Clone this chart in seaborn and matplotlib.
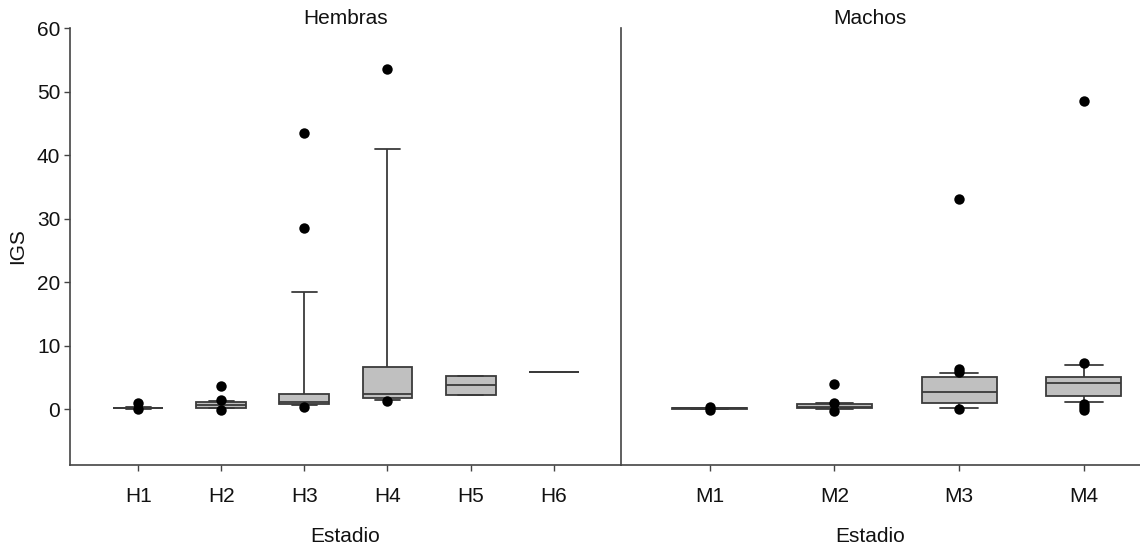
import matplotlib
matplotlib.use('Agg')
import matplotlib.pyplot as plt
import seaborn as sb
import pandas as pd
import numpy as np

# estadios por sexo
hembras = ['H1', 'H2', 'H3', 'H4', 'H5', 'H6']
machos = ['M1', 'M2', 'M3', 'M4']

# resumen: min bigote, Q1, mediana, Q3, max bigote
caja = {
    'H1': [0.05, 0.1, 0.15, 0.25, 0.4],
    'H2': [0.1, 0.25, 0.7, 1.1, 1.3],
    'H3': [0.7, 0.8, 1.1, 2.4, 18.5],
    'H4': [1.5, 1.7, 2.4, 6.6, 41.0],
    'H5': [2.2, 2.2, 3.8, 5.2, 5.2],
    'H6': [5.8],
    'M1': [0.0, 0.05, 0.1, 0.15, 0.2],
    'M2': [0.0, 0.1, 0.4, 0.75, 0.9],
    'M3': [0.2, 0.9, 2.7, 5.1, 5.7],
    'M4': [1.1, 2.0, 4.1, 5.1, 7.0],
}

# valores atipicos (puntos negros)
atipicos = {
    'H1': [1.0, 0.0],
    'H2': [3.7, 1.4, -0.1],
    'H3': [43.5, 28.5, 0.4],
    'H4': [53.5, 1.2],
    'M1': [0.4, -0.1],
    'M2': [4.0, 1.0, -0.3],
    'M3': [33.0, 6.3, 5.9, 0.0],
    'M4': [48.5, 7.3, 0.8, 0.3, -0.1],
}

df_caja = pd.DataFrame([(k, v) for k, vals in caja.items() for v in vals], columns=['Estadio', 'IGS'])
df_atip = pd.DataFrame([(k, v) for k, vals in atipicos.items() for v in vals], columns=['Estadio', 'IGS'])

sb.set_style('ticks')
plt.rcParams['font.family'] = ['Liberation Sans', 'DejaVu Sans']
plt.rcParams['text.color'] = '#111111'
plt.rcParams['axes.labelcolor'] = '#111111'
plt.rcParams['xtick.labelcolor'] = '#111111'
plt.rcParams['ytick.labelcolor'] = '#111111'
fs = 15

fig = plt.figure(figsize=(11.4, 5.5), dpi=100)
x0, x1, x2 = 70 / 1140, 621 / 1140, 1.0
y0, y1 = 1 - 465 / 550, 1 - 28 / 550
ax_h = fig.add_axes([x0, y0, x1 - x0, y1 - y0])
ax_m = fig.add_axes([x1, y0, x2 - x1, y1 - y0], sharey=ax_h)

gris, borde = '#c0c0c0', '#3a3a3a'
for ax, orden, titulo, lims, tx in [(ax_h, hembras, 'Hembras', (-0.82, 5.81), 0.5),
                                    (ax_m, machos, 'Machos', (-0.71, 3.45), 0.48)]:
    sb.boxplot(data=df_caja[df_caja.Estadio.isin(orden)], x='Estadio', y='IGS', order=orden,
               whis=(0, 100), showfliers=False, width=0.6, color=gris, linecolor=borde,
               linewidth=1.3, saturation=1, ax=ax)
    sb.stripplot(data=df_atip[df_atip.Estadio.isin(orden)], x='Estadio', y='IGS', order=orden,
                 jitter=False, color='black', size=7.5, ax=ax)
    ax.set_xlim(*lims)
    ax.set_title(titulo, fontsize=fs, pad=1, x=tx)
    ax.set_xlabel('Estadio', fontsize=fs)
    ax.xaxis.set_label_coords(tx, -0.142)
    ax.tick_params(axis='x', length=4, width=1, color='#444444', pad=12, labelsize=fs)
    for s in ['top', 'right']:
        ax.spines[s].set_visible(False)
    for s in ['left', 'bottom']:
        ax.spines[s].set_color('#444444')
        ax.spines[s].set_linewidth(1.2)

ax_h.set_ylim(-8.8, 60)
ax_h.set_yticks([0, 10, 20, 30, 40, 50, 60])
ax_h.set_ylabel('IGS', fontsize=fs, labelpad=7)
ax_h.tick_params(axis='y', length=4, width=1, color='#444444', labelsize=fs, pad=3)
ax_m.set_ylabel('')
ax_m.tick_params(axis='y', left=False, labelleft=False)

fig.savefig('out.png', dpi=100)
